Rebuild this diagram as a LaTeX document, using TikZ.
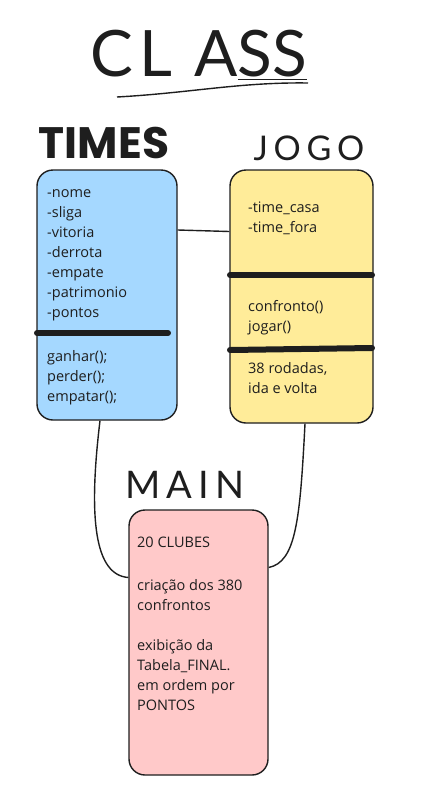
\documentclass[tikz,border=0pt]{standalone}
\usepackage{fontspec}
\setmainfont{Open Sans}
\newfontfamily\headfont{Poppins}
\newfontfamily\thinfont{Lato}
\usetikzlibrary{positioning}
\definecolor{timesblue}{HTML}{A5D8FF}
\definecolor{jogoyellow}{HTML}{FFEC99}
\definecolor{mainpink}{HTML}{FFC9C9}
\definecolor{inkblack}{HTML}{1E1E1E}

\begin{document}
\begin{tikzpicture}[
  x=1pt, y=-1pt,
  classbox/.style={draw=inkblack, line width=1.4pt, rounded corners=16pt, inner sep=0pt},
  body/.style={anchor=west, align=left, inner sep=0pt, text=inkblack,
               font=\fontsize{14.5}{20}\selectfont},
  sep/.style={draw=inkblack, line width=6pt, line cap=round},
  link/.style={draw=inkblack, line width=1.4pt},
  heading/.style={text=inkblack, inner sep=0pt}
]
\useasboundingbox (0,0) rectangle (433,806);

% title
\node[heading, font=\thinfont\fontsize{64}{64}\selectfont] (title) at (199,55) {C\hspace{6pt}L\hspace{22pt}A\underline{SS}};
\draw[link] (117,97) .. controls (190,93) and (240,82) .. (308,83);

% class boxes
\node[classbox, fill=timesblue, minimum width=140pt, minimum height=250pt] (times) at (107,295) {};
\node[classbox, fill=jogoyellow, minimum width=143pt, minimum height=253pt] (jogo) at (301.5,296.5) {};
\node[classbox, fill=mainpink, minimum width=139pt, minimum height=265pt] (main) at (198.5,642.5) {};

% headings
\node[heading, font=\headfont\bfseries\fontsize{44}{44}\selectfont] (timesTitle) at (104,143) {TIMES};
\node[heading, font=\thinfont\fontsize{34}{34}\selectfont] (jogoTitle) at (309,148) {J\,O\,G\,O};
\node[heading, font=\thinfont\fontsize{38}{38}\selectfont] (mainTitle) at (185,485) {M\,A\,I\,N};

% TIMES
\node[body] (timesAttr) at (47,255) {-nome\\-sliga\\-vitoria\\-derrota\\-empate\\-patrimonio\\-pontos};
\draw[sep] (37,333) -- (168,333);
\node[body] (timesOps) at (47,378) {ganhar();\\perder();\\empatar();};

% JOGO
\node[body] (jogoAttr) at (248,218) {-time\_casa\\-time\_fora};
\draw[sep] (230,275) -- (372,275);
\node[body] (jogoOps) at (248,318) {confronto()\\jogar()};
\draw[sep] (230,350) -- (372,348);
\node[body] (jogoNote) at (248,378) {38 rodadas,\\ida e volta};

% MAIN
\node[body] (mainClubs) at (137,542) {20 CLUBES};
\node[body] (mainGames) at (137,595) {criação dos 380\\confrontos};
\node[body] (mainTable) at (137,675) {exibição da\\Tabela\_FINAL.\\em ordem por\\PONTOS};

% links
\draw[link] ([yshift=65pt]times.east) -- ([yshift=65pt]jogo.west);
\draw[link] ([xshift=-7pt]times.south) .. controls (88,520) and (95,575) .. ([yshift=65pt]main.west);
\draw[link] ([xshift=3.5pt]jogo.south) .. controls (300,520) and (296,562) .. ([yshift=75pt]main.east);

\end{tikzpicture}
\end{document}
